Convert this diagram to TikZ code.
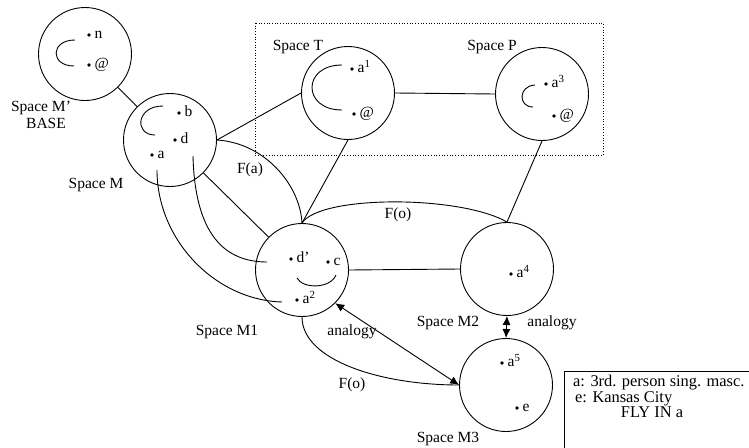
\documentclass[tikz,border=0pt]{standalone}
\usepackage{fontspec}
\setmainfont{Liberation Serif}
\usetikzlibrary{arrows.meta}

% a small filled point with its letter set just to the right of it
\newcommand\spot[4]{%
  \fill (#2,#3) circle (1.8pt);
  \node[dotlbl] (#1) at (#2+5.5,#3+3.5) {#4};}

\begin{document}
\begin{tikzpicture}[x=1pt,y=-1pt,
  every node/.style={font=\fontsize{15.5}{17}\selectfont},
  space/.style={draw, circle, inner sep=0pt, minimum size=93pt, line width=0.9pt},
  link/.style={line width=0.9pt},
  lbl/.style={inner sep=0pt},
  dotlbl/.style={inner sep=0pt, anchor=base west},
  keytext/.style={inner sep=0pt, font=\fontsize{16.4}{18}\selectfont},
  bothheads/.style={{Latex[length=9pt,width=8pt]}-{Latex[length=9pt,width=8pt]}}
]
\useasboundingbox (0,0) rectangle (749,447);
\clip (0,0) rectangle (749,447);

% dotted frame around the two upper spaces
\draw[dotted, line width=0.7pt] (255,23) rectangle (603,155);

% mental spaces
\node[space] (Mp) at (85,54)  {};
\node[space] (M)  at (170,140) {};
\node[space] (T)  at (348,93)  {};
\node[space] (P)  at (542,94)  {};
\node[space] (M1) at (302,270) {};
\node[space] (M2) at (507,269) {};
\node[space] (M3) at (506,385) {};

% brackets drawn inside the spaces
\draw[link] (75,40) .. controls (50,40) and (50,66) .. (74,66);
\draw[link] (163,106) .. controls (136,106) and (134,135) .. (155,135);
\draw[link] (342,65) .. controls (302,65) and (302,110) .. (342,110);
\draw[link] (535,85) .. controls (518,86) and (518,107) .. (533,107);
\draw[link] (297,278) .. controls (303,289) and (330,289) .. (336,275);

% elements of each space
\spot{n}{89}{35}{n}
\spot{atMp}{89}{65}{@}
\spot{b}{179}{113}{b}
\spot{d}{175}{140}{d}
\spot{a}{152}{155}{a}
\spot{aT}{352}{69}{a\textsuperscript{1}}
\spot{atT}{354}{114}{@}
\spot{aP}{546}{84}{a\textsuperscript{3}}
\spot{atP}{554}{116}{@}
\spot{dd}{291}{259}{d’}
\spot{c}{328}{262}{c}
\spot{atwo}{297}{300}{a\textsuperscript{2}}
\spot{afour}{511}{274}{a\textsuperscript{4}}
\spot{afive}{502}{363}{a\textsuperscript{5}}
\spot{e}{517}{408}{e}

% connectors between spaces
\draw[link] (Mp) -- (M);
\draw[link] (M.east) -- (T.west);
\draw[link] (M.east) .. controls (265,143) and (300,185) .. (M1.north);
\draw[link] (M) -- (M1);
\coordinate (dIn)  at (193,156);
\coordinate (dOut) at (267,262);
\draw[link] (dIn) .. controls (195,235) and (225,262) .. (dOut);
\coordinate (aIn)  at (157,170);
\coordinate (aOut) at (282,302);
\draw[link] (aIn) .. controls (157,240) and (215,300) .. (aOut);
\draw[link] (T.south) -- (M1.north);
\draw[link] (T.east) -- (P.west);
\draw[link] (P.south) -- (M2.north);
\draw[link] (M1.north) .. controls (320,195) and (460,195) .. (M2.north);
\draw[link] (M1.east) -- (M2.west);
\draw[link] (M1.south) .. controls (302,360) and (380,385) .. (M3.west);
\draw[link, bothheads] (M1.-45) -- (M3.west);
\draw[link, bothheads] (M2.south) -- (M3.north);

% captions
\node[lbl] (tMp)  at (41,108)  {Space M’};
\node[lbl] (tBase) at (46,123) {BASE};
\node[lbl] (tM)   at (96,185)  {Space M};
\node[lbl] (tT)   at (298,47)  {Space T};
\node[lbl] (tP)   at (492,47)  {Space P};
\node[lbl] (tFa)  at (250,170) {F(a)};
\node[lbl] (tFo)  at (398,215) {F(o)};
\node[lbl] (tM1)  at (227,332) {Space M1};
\node[lbl] (tAn1) at (352,332) {analogy};
\node[lbl] (tM2)  at (448,323) {Space M2};
\node[lbl] (tAn2) at (552,323) {analogy};
\node[lbl] (tFo2) at (352,385) {F(o)};
\node[lbl] (tM3)  at (448,439) {Space M3};

% key box
\draw[line width=0.9pt] (564,371) rectangle (770,470);
\node[keytext, anchor=base west] (k1) at (573,386) {a: 3rd. person sing. masc.};
\node[keytext, anchor=base west] (k2) at (575,402) {e: Kansas City};
\node[keytext, anchor=base] (k3) at (652,417) {FLY IN a};
\end{tikzpicture}
\end{document}
